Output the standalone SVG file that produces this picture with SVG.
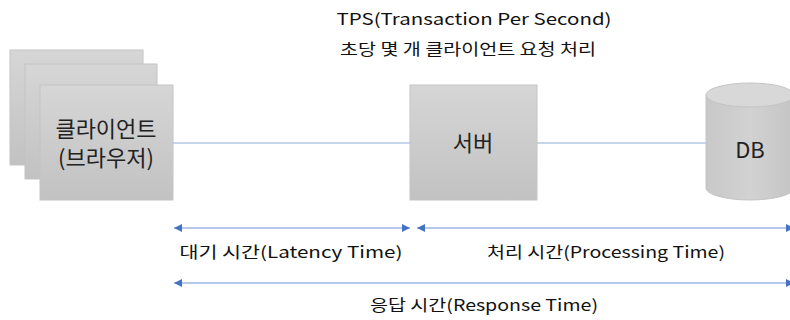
<svg xmlns="http://www.w3.org/2000/svg" width="790" height="320" viewBox="0 0 790 320">
<style>
.box{fill:url(#g);stroke:#c4c4c4;stroke-width:1}
.lbl{font-family:"Noto Sans CJK KR","Liberation Sans",sans-serif;font-size:22px;fill:#222;text-anchor:middle}
.hand{font-family:"Noto Sans CJK KR","Liberation Sans",sans-serif;font-size:16px;fill:#111;text-anchor:middle}
.ln{stroke:#8eaadb;stroke-width:1;fill:none}
.ar{stroke:#6f93d6;stroke-width:1;fill:none}
</style>
<defs>
<linearGradient id="g" x1="0" y1="0" x2="0" y2="1">
<stop offset="0" stop-color="#d6d6d6"/>
<stop offset="1" stop-color="#c2c2c2"/>
</linearGradient>
<linearGradient id="gc" x1="0" y1="0" x2="1" y2="0">
<stop offset="0" stop-color="#c8c8c8"/>
<stop offset="0.5" stop-color="#d2d2d2"/>
<stop offset="1" stop-color="#c4c4c4"/>
</linearGradient>
<marker id="ah" viewBox="0 0 10 10" refX="10" refY="5" markerWidth="8" markerHeight="8" markerUnits="userSpaceOnUse" orient="auto-start-reverse">
<path d="M0,0 L10,5 L0,10 Z" fill="#4472c4"/>
</marker>
</defs>
<text class="hand" x="474" y="25" textLength="275" lengthAdjust="spacingAndGlyphs">TPS(Transaction Per Second)</text>
<text class="hand" x="468" y="55" textLength="256" lengthAdjust="spacingAndGlyphs">초당 몇 개 클라이언트 요청 처리</text>
<g id="connectors">
<line class="ln" x1="173" y1="143" x2="410" y2="143"/>
<line class="ln" x1="537" y1="143" x2="707" y2="143"/>
<line class="ar" x1="174" y1="228" x2="410" y2="228" marker-start="url(#ah)" marker-end="url(#ah)"/>
<line class="ar" x1="417" y1="228" x2="794" y2="228" marker-start="url(#ah)" marker-end="url(#ah)"/>
<line class="ar" x1="174" y1="283" x2="794" y2="283" marker-start="url(#ah)" marker-end="url(#ah)"/>
</g>
<g id="client">
<rect class="box" x="10" y="50" width="133" height="115"/>
<rect class="box" x="25" y="64" width="132" height="115"/>
<rect class="box" x="40" y="85" width="133" height="115"/>
<text class="lbl" x="106" y="137">클라이언트</text>
<text class="lbl" x="106" y="166">(브라우저)</text>
</g>
<g id="server">
<rect class="box" x="410" y="85" width="127" height="115"/>
<text class="lbl" x="473" y="151">서버</text>
</g>
<g id="db">
<path d="M706,95 L706,188 A44,12 0 0 0 794,188 L794,95 Z" fill="url(#gc)" stroke="#c4c4c4"/>
<ellipse cx="750" cy="95" rx="44" ry="12" fill="#d8d8d8" stroke="#c4c4c4"/>
<text class="lbl" x="750" y="158">DB</text>
</g>
<text class="hand" x="291" y="258" textLength="223" lengthAdjust="spacingAndGlyphs">대기 시간(Latency Time)</text>
<text class="hand" x="606" y="258" textLength="238" lengthAdjust="spacingAndGlyphs">처리 시간(Processing Time)</text>
<text class="hand" x="484" y="311" textLength="228" lengthAdjust="spacingAndGlyphs">응답 시간(Response Time)</text>
</svg>
